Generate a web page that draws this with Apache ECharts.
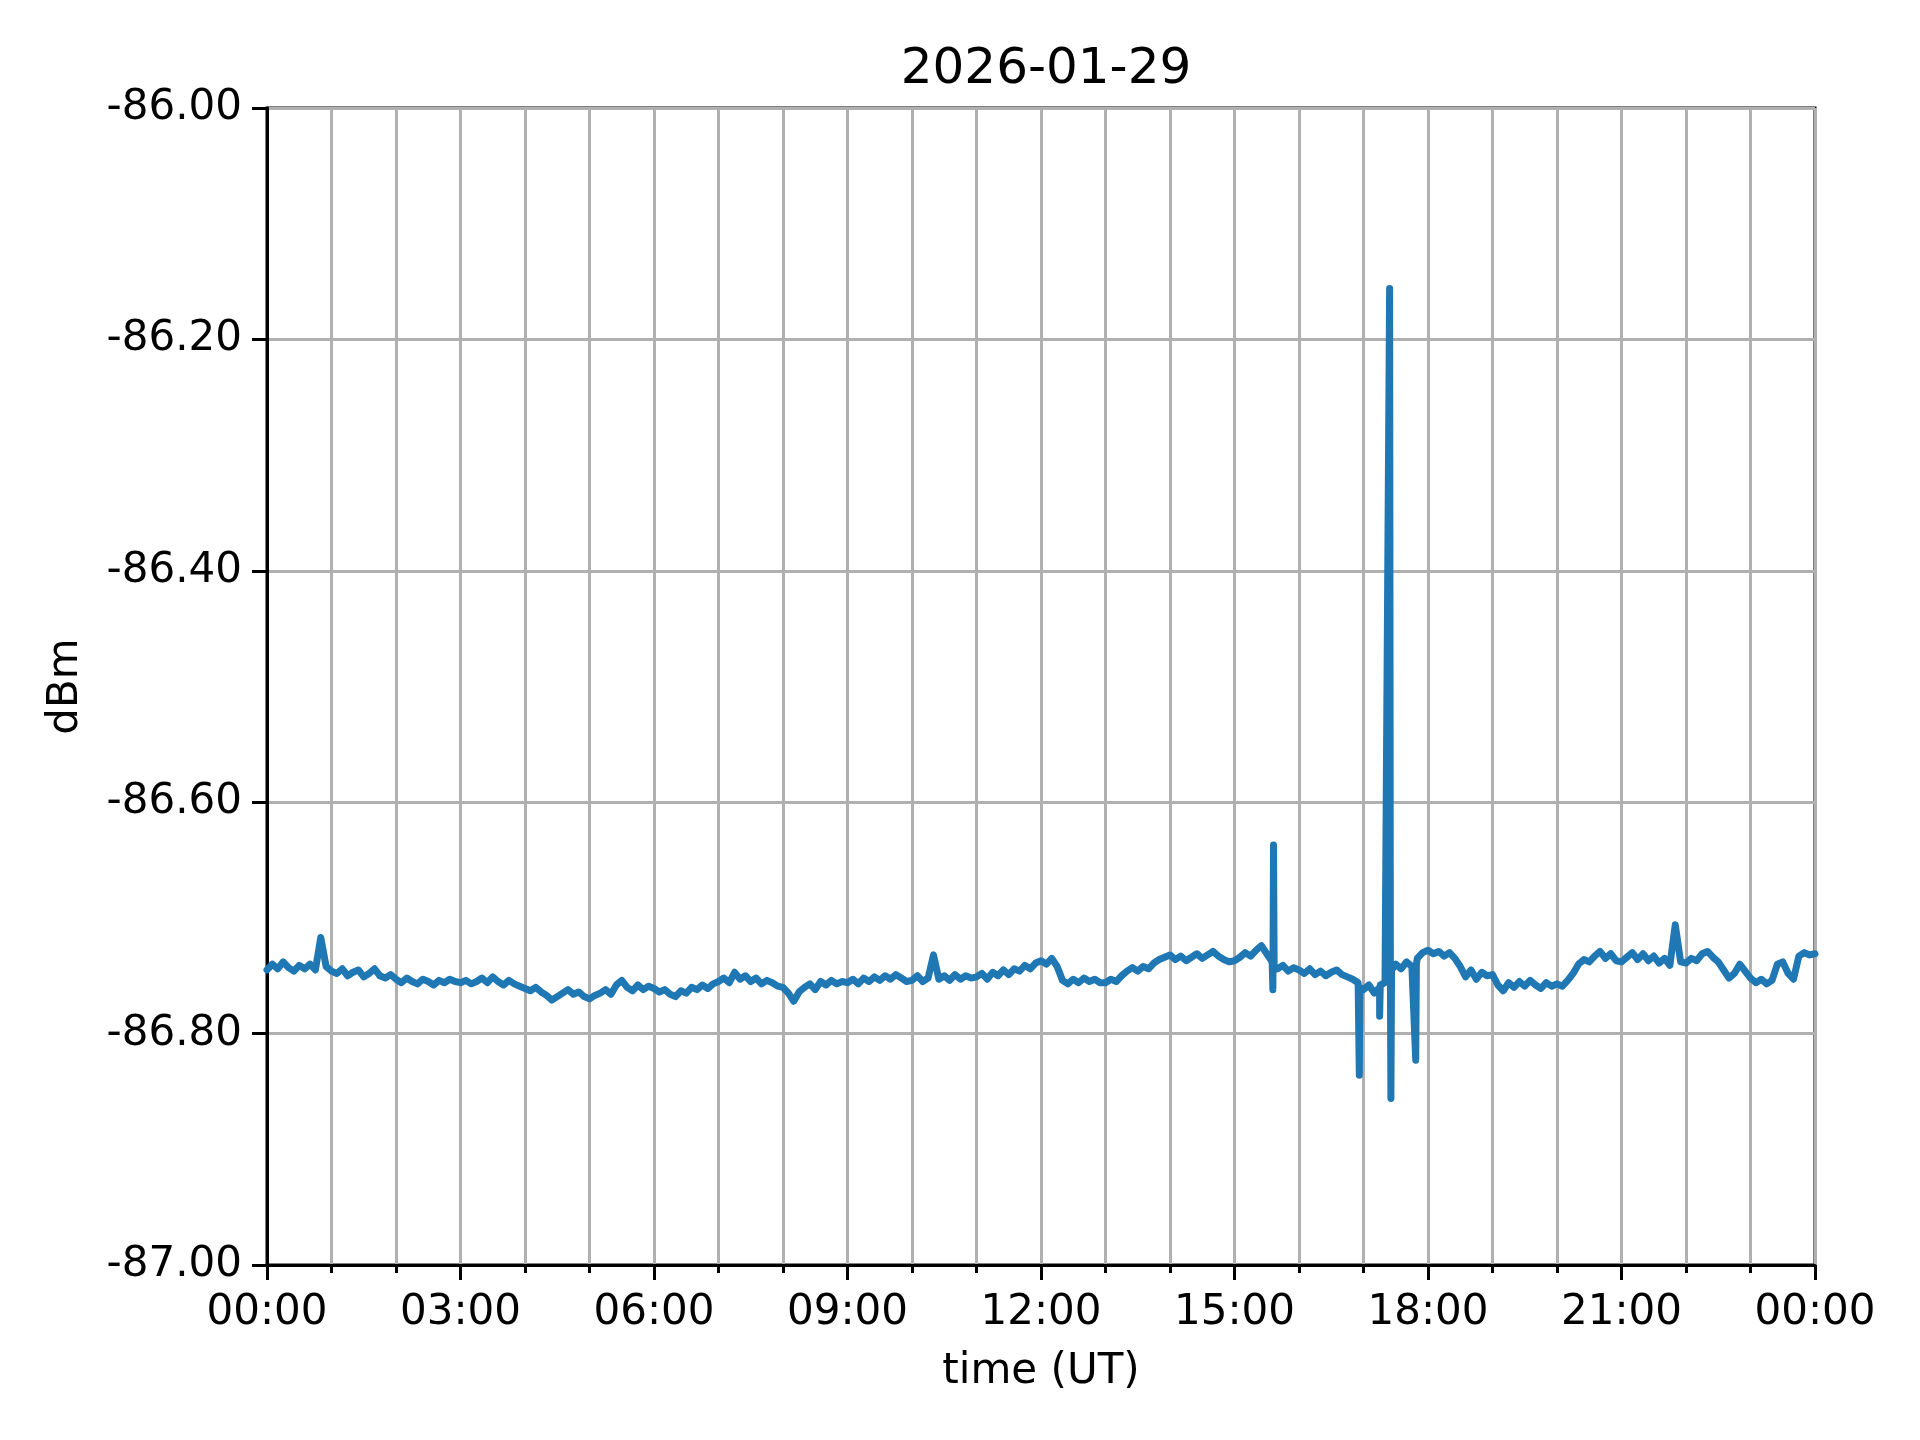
<!DOCTYPE html>
<html>
<head>
<meta charset="utf-8">
<script src="https://cdn.jsdelivr.net/npm/echarts@6/dist/echarts.min.js"></script>
<style>
html,body{margin:0;padding:0;background:#fff;}
#chart{width:1920px;height:1440px;}
</style>
</head>
<body>
<div id="chart"></div>
<script>
// ---- data ----
const titleText = '2026-01-29';
const xAxisName = 'time (UT)';
const yAxisName = 'dBm';
const xTickLabels = ['00:00','03:00','06:00','09:00','12:00','15:00','18:00','21:00','00:00'];
const stepMinutes = 5; // baseline samples every 5 min, starting 00:00
const baseValues = [
// 00h
-86.745,-86.740,-86.744,-86.738,-86.743,-86.746,-86.741,-86.744,-86.740,-86.745,-86.717,-86.742,
// 01h
-86.746,-86.748,-86.744,-86.750,-86.747,-86.745,-86.751,-86.748,-86.744,-86.750,-86.752,-86.749,
// 02h
-86.753,-86.756,-86.752,-86.755,-86.757,-86.753,-86.755,-86.758,-86.754,-86.756,-86.753,-86.755,
// 03h
-86.756,-86.754,-86.757,-86.755,-86.752,-86.756,-86.751,-86.755,-86.758,-86.754,-86.757,-86.759,
// 04h
-86.761,-86.763,-86.760,-86.764,-86.767,-86.771,-86.768,-86.765,-86.762,-86.766,-86.764,-86.768,
// 05h
-86.770,-86.767,-86.765,-86.762,-86.766,-86.758,-86.754,-86.760,-86.763,-86.758,-86.762,-86.759,
// 06h
-86.761,-86.764,-86.762,-86.766,-86.768,-86.763,-86.765,-86.760,-86.762,-86.758,-86.761,-86.757,
// 07h
-86.755,-86.752,-86.756,-86.747,-86.753,-86.750,-86.755,-86.752,-86.757,-86.754,-86.756,-86.759,
// 08h
-86.760,-86.765,-86.772,-86.764,-86.760,-86.757,-86.762,-86.755,-86.758,-86.754,-86.757,-86.755,
// 09h
-86.756,-86.753,-86.757,-86.752,-86.755,-86.751,-86.754,-86.750,-86.753,-86.749,-86.752,-86.755,
// 10h
-86.754,-86.750,-86.755,-86.752,-86.732,-86.753,-86.750,-86.754,-86.749,-86.753,-86.750,-86.752,
// 11h
-86.751,-86.748,-86.753,-86.747,-86.750,-86.745,-86.749,-86.744,-86.746,-86.741,-86.744,-86.739,
// 12h
-86.737,-86.740,-86.735,-86.742,-86.754,-86.757,-86.753,-86.756,-86.752,-86.755,-86.753,-86.756,
// 13h
-86.756,-86.753,-86.755,-86.750,-86.746,-86.743,-86.746,-86.742,-86.744,-86.739,-86.736,-86.734,
// 14h
-86.732,-86.736,-86.733,-86.737,-86.734,-86.731,-86.735,-86.732,-86.729,-86.733,-86.736,-86.738,
// 15h
-86.737,-86.734,-86.730,-86.733,-86.728,-86.724,-86.731,-86.738,-86.744,-86.741,-86.746,-86.743,
// 16h
-86.745,-86.748,-86.744,-86.749,-86.746,-86.750,-86.747,-86.745,-86.749,-86.751,-86.753,-86.756,
// 17h
-86.762,-86.758,-86.765,-86.760,-86.756,-86.745,-86.740,-86.744,-86.738,-86.742,-86.735,-86.730,
// 18h
-86.728,-86.731,-86.729,-86.733,-86.730,-86.735,-86.742,-86.751,-86.745,-86.753,-86.747,-86.750,
// 19h
-86.749,-86.758,-86.763,-86.756,-86.760,-86.755,-86.759,-86.754,-86.758,-86.761,-86.756,-86.759,
// 20h
-86.757,-86.759,-86.754,-86.748,-86.740,-86.736,-86.738,-86.733,-86.729,-86.735,-86.731,-86.737,
// 21h
-86.738,-86.734,-86.730,-86.736,-86.731,-86.737,-86.733,-86.739,-86.735,-86.741,-86.706,-86.738,
// 22h
-86.739,-86.735,-86.737,-86.731,-86.729,-86.734,-86.738,-86.745,-86.752,-86.748,-86.740,-86.746,
// 23h
-86.752,-86.756,-86.753,-86.757,-86.754,-86.740,-86.738,-86.748,-86.753,-86.733,-86.730,-86.732,
// 24h
-86.731
];
// short excursions (hour, dBm)
const spikeTimes  = [15.595, 15.605, 15.615, 16.935, 16.945, 17.250, 17.260, 17.405, 17.425, 17.435, 17.810, 17.820];
const spikeValues = [-86.762, -86.637, -86.745, -86.836, -86.760, -86.785, -86.758, -86.156, -86.856, -86.745, -86.823, -86.740];

// ---- build series ----
const points = baseValues.map((v, i) => [i * stepMinutes / 60, v]);
spikeTimes.forEach((t, i) => points.push([t, spikeValues[i]]));
points.sort((a, b) => a[0] - b[0]);

const font = 'DejaVu Sans';
const chart = echarts.init(document.getElementById('chart'), null, {renderer: 'canvas'});
chart.setOption({
  animation: false,
  backgroundColor: '#ffffff',
  title: {
    text: titleText,
    left: 1041, top: 40, textAlign: 'center',
    textStyle: {fontFamily: font, fontSize: 50, fontWeight: 'normal', color: '#000'}
  },
  grid: {
    left: 267, right: 105, top: 108, bottom: 175,
    show: true, borderColor: '#000', borderWidth: 3, backgroundColor: 'transparent'
  },
  xAxis: {
    type: 'value', min: 0, max: 24, interval: 3,
    name: xAxisName, nameLocation: 'middle', nameGap: 86,
    nameTextStyle: {fontFamily: font, fontSize: 42, color: '#000'},
    axisLine: {show: true, onZero: false, lineStyle: {color: '#000', width: 3}},
    axisTick: {show: true, length: 15, lineStyle: {color: '#000', width: 3}},
    minorTick: {show: true, splitNumber: 3, length: 8, lineStyle: {color: '#000', width: 3}},
    axisLabel: {
      fontFamily: font, fontSize: 42, color: '#000', margin: 27,
      formatter: (v) => xTickLabels[Math.round(v / 3)]
    },
    splitLine: {show: true, lineStyle: {color: '#b0b0b0', width: 3}},
    minorSplitLine: {show: true, lineStyle: {color: '#b0b0b0', width: 3}}
  },
  yAxis: {
    type: 'value', min: -87, max: -86, interval: 0.2,
    name: yAxisName, nameLocation: 'middle', nameGap: 180,
    nameTextStyle: {fontFamily: font, fontSize: 42, color: '#000'},
    axisLine: {show: true, lineStyle: {color: '#000', width: 3}},
    axisTick: {show: true, length: 15, lineStyle: {color: '#000', width: 3}},
    axisLabel: {
      fontFamily: font, fontSize: 42, color: '#000', margin: 25,
      formatter: (v) => v.toFixed(2)
    },
    splitLine: {show: true, lineStyle: {color: '#b0b0b0', width: 3}}
  },
  series: [{
    type: 'line',
    data: points,
    showSymbol: false,
    symbol: 'none',
    sampling: null,
    lineStyle: {color: '#1f77b4', width: 7, cap: 'round', join: 'round'},
    clip: true,
    z: 3
  }]
});
</script>
</body>
</html>
